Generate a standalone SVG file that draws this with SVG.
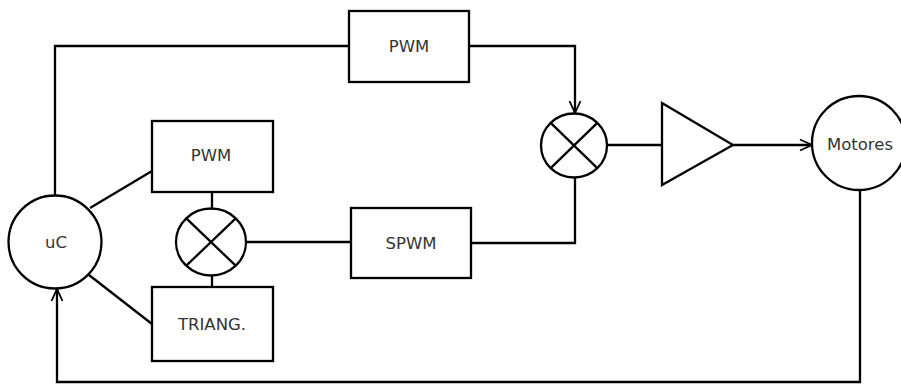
<svg xmlns="http://www.w3.org/2000/svg" width="901" height="385" viewBox="0 0 901 385">
<style>
.s{fill:none;stroke:#000;stroke-width:2.3;stroke-linejoin:miter}
.b{fill:#fff;stroke:#000;stroke-width:2.3}
.t{font-family:"DejaVu Sans",sans-serif;font-size:16.5px;fill:#333;text-anchor:middle}
</style>
<defs>
<marker id="arr" viewBox="0 0 14 14" refX="13" refY="7" markerWidth="14" markerHeight="14" markerUnits="userSpaceOnUse" orient="auto">
<path d="M1,1.5 L13,7 L1,12.5" fill="none" stroke="#000" stroke-width="1.8"/>
</marker>
</defs>
<rect width="901" height="385" fill="#fff"/>
<g id="connectors" class="s">
<polyline points="55,195 55,46 349,46"/>
<polyline points="469,46 575,46 575,113" marker-end="url(#arr)"/>
<line x1="90" y1="208" x2="152" y2="171"/>
<line x1="89" y1="275" x2="152" y2="324"/>
<line x1="212" y1="192" x2="212" y2="208"/>
<line x1="212" y1="276" x2="212" y2="287"/>
<line x1="246" y1="242" x2="351" y2="242"/>
<polyline points="471,243 575,243 575,177"/>
<line x1="607" y1="145" x2="662" y2="145"/>
<line x1="733" y1="145" x2="812" y2="145" marker-end="url(#arr)"/>
<polyline points="860,190 860,382 57,382 57,289" marker-end="url(#arr)"/>
</g>
<g id="pwm-top"><rect class="b" x="349" y="11" width="120" height="71"/><text class="t" x="409" y="52">PWM</text></g>
<g id="pwm"><rect class="b" x="152" y="121" width="121" height="71"/><text class="t" x="211" y="161">PWM</text></g>
<g id="triang"><rect class="b" x="152" y="287" width="121" height="74"/><text class="t" x="212" y="330">TRIANG.</text></g>
<g id="spwm"><rect class="b" x="351" y="208" width="120" height="70"/><text class="t" x="411" y="249">SPWM</text></g>
<g id="uc"><circle class="b" cx="55" cy="242" r="46.5"/><text class="t" x="56" y="248">uC</text></g>
<g id="mult1"><ellipse class="b" cx="211" cy="242" rx="35" ry="33.5"/><path class="s" d="M186.3,218.3 L235.7,265.7 M235.7,218.3 L186.3,265.7"/></g>
<g id="mult2"><ellipse class="b" cx="574" cy="145.5" rx="33" ry="32"/><path class="s" d="M550.7,122.9 L597.3,168.1 M597.3,122.9 L550.7,168.1"/></g>
<g id="amp"><polygon class="b" points="662,103 662,185 733,145"/></g>
<g id="motores"><circle class="b" cx="859" cy="143" r="47"/><text class="t" x="860" y="150">Motores</text></g>
</svg>
